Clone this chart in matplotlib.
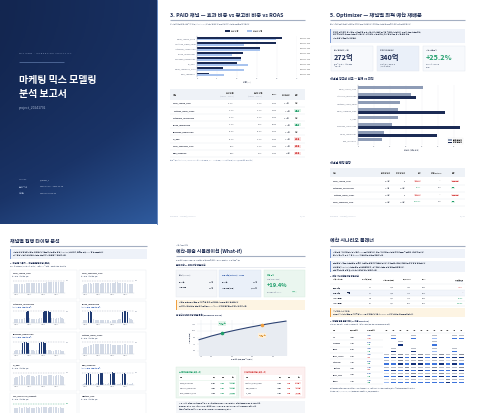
import matplotlib.pyplot as plt
import matplotlib.patches as mpatches
from matplotlib.colors import LinearSegmentedColormap, ListedColormap, BoundaryNorm
import numpy as np

plt.rcParams['font.family'] = ['Noto Sans CJK KR', 'DejaVu Sans']

# ---------------- data ----------------
paid_channels = ["Naver_search_click", "Youtube_video_views", "Instagram_impression", "Kakao_impression",
                 "Facebook_impression", "TV_GRP", "Naver_shopping_click", "OOH_spending"]
effect_share = [21.2, 19.8, 15.8, 11.6, 10.9, 10.1, 6.5, 3.0]
spend_share = [19.7, 11.7, 15.8, 8.8, 10.9, 12.8, 11.8, 6.8]
paid_roas = [2.86, 3.48, 2.72, 3.56, 2.77, 2.14, 1.34, 1.24]
paid_spend = [28.7, 17.0, 22.9, 12.8, 15.9, 18.6, 17.2, 9.9]
paid_verdict = ["적정", "효율적", "적정", "효율적", "적정", "비효율", "비효율", "비효율"]

opt_channels = ["Naver_search_click", "Instagram_impression", "Youtube_video_views", "Naver_shopping_click",
                "TV_GRP", "Facebook_impression", "Kakao_impression", "OOH_spending"]
opt_current = [40.6, 33.1, 26.0, 25.0, 24.6, 21.3, 16.3, 14.8]
opt_optimal = [0, 36.0, 0, 54.0, 0, 63.5, 49.0, 0]
opt_return = [0, 2.6, 0, 2.4, 0, 2.9, 3.1, 0]
kpi_current = 272
kpi_optimal = 340
kpi_lift = 25.2

timing_channels = ["Naver_search_click", "Naver_shopping_click", "Instagram_impression", "Kakao_impression",
                   "Facebook_impression", "Youtube_video_views", "TV_GRP", "OOH_spending",
                   "Cafe_commerce_product", "Weather_rain"]
timing_flighted = [False, False, True, True, True, False, False, True, False, False]
wk_naver_search = [0.62, 0.63, 0.64, 0.66, 0.66, 0.67, 0.68, 0.69, 0.70, 0.70, 0.71, 0.72, 0.72, 0.73, 0.74,
                   0.74, 0.74, 0.75, 0.75, 0.76, 0.76, 0.76, 0.77, 0.77, 0.78, 0.78, 0.78, 0.77, 0.78, 0.78]
wk_naver_shop = [0.60, 0.62, 0.66, 0.70, 0.69, 0.68, 0.70, 0.71, 0.72, 0.70, 0.68, 0.70, 0.72, 0.71, 0.70,
                 0.70, 0.72, 0.74, 0.72, 0.76, 0.78, 0.74, 0.72, 0.70, 0.71, 0.70, 0.68, 0.66, 0.64, 0.66]
wk_instagram = [0.30, 0.32, 0.34, 0.36, 0.34, 0.36, 0.40, 0.88, 0.90, 0.40, 0.36, 0.34, 0.32, 0.34, 0.36,
                0.38, 0.42, 0.86, 0.92, 0.94, 0.90, 0.86, 0.42, 0.38, 0.34, 0.40, 0.42, 0.46, 0.40, 0.36]
wk_kakao = [0.22, 0.24, 0.26, 0.88, 0.90, 0.86, 0.30, 0.28, 0.25, 0.24, 0.22, 0.24, 0.26, 0.25, 0.24,
            0.22, 0.20, 0.22, 0.24, 0.26, 0.28, 0.30, 0.34, 0.84, 0.90, 0.92, 0.88, 0.40, 0.32, 0.28]
wk_facebook = [0.25, 0.28, 0.30, 0.32, 0.30, 0.82, 0.90, 0.95, 0.85, 0.34, 0.30, 0.28, 0.26, 0.30, 0.32,
               0.82, 0.90, 0.94, 0.86, 0.34, 0.30, 0.28, 0.26, 0.25, 0.30, 0.32, 0.30, 0.28, 0.26, 0.25]
wk_youtube = [0.45, 0.50, 0.55, 0.60, 0.66, 0.70, 0.74, 0.76, 0.78, 0.78, 0.80, 0.80, 0.79, 0.78, 0.76,
              0.74, 0.74, 0.72, 0.72, 0.70, 0.70, 0.70, 0.72, 0.72, 0.74, 0.74, 0.72, 0.70, 0.68, 0.66]
wk_tv = [0.50, 0.56, 0.62, 0.70, 0.74, 0.70, 0.62, 0.66, 0.72, 0.75, 0.70, 0.64, 0.60, 0.66, 0.72,
         0.76, 0.74, 0.68, 0.64, 0.70, 0.76, 0.78, 0.74, 0.68, 0.66, 0.72, 0.76, 0.74, 0.68, 0.62]
wk_ooh = [0.10, 0.12, 0.82, 0.92, 0.86, 0.14, 0.10, 0.10, 0.12, 0.84, 0.92, 0.88, 0.12, 0.10, 0.10,
          0.14, 0.86, 0.94, 0.88, 0.12, 0.10, 0.10, 0.12, 0.84, 0.92, 0.86, 0.14, 0.10, 0.10, 0.12]
wk_cafe = [0.55, 0.58, 0.60, 0.62, 0.60, 0.58, 0.62, 0.64, 0.60, 0.62, 0.60, 0.58, 0.60, 0.64, 0.62,
           0.60, 0.62, 0.66, 0.64, 0.62, 0.60, 0.64, 0.66, 0.68, 0.64, 0.62, 0.60, 0.62, 0.60, 0.58]
timing_series = [wk_naver_search, wk_naver_shop, wk_instagram, wk_kakao, wk_facebook,
                 wk_youtube, wk_tv, wk_ooh, wk_cafe, []]

sim_budget = [140, 200, 260, 320, 380, 440, 500, 560]
sim_revenue = [850, 935, 1008, 1072, 1130, 1184, 1232, 1275]
sim_current = (250, 995)
sim_optimal = (445, 1188)
up_channels = ["Kakao_impression", "Facebook_impression", "Naver_shopping_click"]
up_cur = [16.3, 21.3, 25.0]
up_opt = [49.0, 63.5, 54.0]
down_channels = ["Youtube_video_views", "OOH_spending", "TV_GRP"]
down_cur = [26.0, 14.8, 24.6]
down_opt = [0, 0, 0]

scen_names = ["현재 예산", "최적 예산", "+20% 증액", "+50% 증액"]
scen_budget = [272, 272, 326, 408]
scen_revenue = [1540, 1640, 1742, 1868]
scen_mroas = [1.42, 1.18, 1.05, 0.91]
scen_roas = [5.66, 6.03, 5.34, 4.58]

months = ["1월", "2월", "3월", "4월", "5월", "6월", "7월", "8월", "9월", "10월", "11월", "12월"]
plan_channels = ["TV", "Facebook", "Kakao", "Naver_search", "Instagram", "Youtube", "Naver_shop", "Others"]
plan_cur_total = [24.6, 21.3, 16.3, 40.6, 33.1, 26.0, 25.0, 14.8]
plan_opt_total = [12.0, 30.5, 22.4, 38.2, 36.0, 24.1, 30.8, 15.2]
plan_current = [[0, 2, 0, 0, 2, 0, 0, 2, 0, 0, 2, 2],
                [0, 0, 2, 0, 0, 0, 0, 2, 0, 0, 0, 0],
                [0, 2, 0, 0, 2, 0, 0, 2, 0, 0, 2, 0],
                [2, 2, 3, 2, 2, 3, 2, 2, 3, 2, 2, 3],
                [2, 1, 3, 2, 2, 3, 1, 2, 2, 1, 3, 2],
                [2, 2, 2, 3, 2, 2, 2, 3, 2, 2, 2, 3],
                [1, 2, 2, 2, 3, 2, 2, 2, 3, 2, 2, 2],
                [1, 2, 1, 2, 2, 1, 2, 2, 1, 3, 2, 2]]
plan_optimal = [[0, 2, 0, 0, 2, 0, 0, 1, 0, 0, 2, 2],
                [0, 0, 3, 0, 0, 0, 0, 2, 0, 0, 0, 0],
                [0, 3, 0, 0, 3, 0, 0, 1, 0, 0, 2, 0],
                [2, 3, 3, 2, 3, 3, 2, 3, 3, 2, 3, 3],
                [2, 2, 3, 2, 3, 3, 2, 2, 3, 2, 3, 2],
                [2, 3, 2, 3, 2, 3, 2, 3, 2, 2, 3, 3],
                [2, 2, 3, 2, 3, 2, 3, 2, 3, 2, 3, 2],
                [1, 2, 2, 2, 2, 2, 2, 2, 2, 3, 2, 2]]

# ---------------- style ----------------
W, H = 478, 413
NAVY = '#1c2b52'
DARK = '#1b2b55'
LIGHTB = '#a8c3ee'
GRAYB = '#8e9cb6'
GREEN = '#1e9e6a'
RED = '#d64545'
TXT = '#3a4252'
MUTED = '#9aa3b3'

fig = plt.figure(figsize=(4.78, 4.13), dpi=100)
bg = fig.add_axes([0, 0, 1, 1])
bg.axis('off')


def T(x, y, s, size=1.6, color=TXT, weight='normal', ha='left', va='center', **kw):
    bg.text(x, y, s, fontsize=size, color=color, fontweight=weight, ha=ha, va=va, **kw)


def R(x, y, w, h, fc, ec='none', lw=0.3):
    bg.add_patch(mpatches.Rectangle((x, y), w, h, facecolor=fc, edgecolor=ec, linewidth=lw))


def L(x0, x1, y, color='#e3e7ee', lw=0.3):
    bg.plot([x0, x1], [y, y], color=color, lw=lw, solid_capstyle='butt')


def badge(x, y, s, fc, tc, size=1.4, ha='left'):
    bg.text(x, y, s, fontsize=size, color=tc, ha=ha, va='center', fontweight='bold',
            bbox=dict(boxstyle='square,pad=0.3', fc=fc, ec='none'))


def callout(x, y, w, h, lines, fc='#eef2f9', bar='#7d9bd6'):
    R(x, y, w, h, fc)
    R(x, y, 0.9, h, bar)
    for k, s in enumerate(lines):
        T(x + 3, y + 2.6 + k * 3.3, s, size=1.35, color='#4a5366')


def sub_ax(x, y, w, h):
    return fig.add_axes([x / W, 1 - (y + h) / H, w / W, h / H])


def style_ax(ax, size=1.6):
    ax.tick_params(length=0, pad=0.8, labelsize=size, colors='#6b7385')
    for s in ax.spines.values():
        s.set_visible(False)


# ---------------- cover ----------------
gx, gy = np.meshgrid(np.linspace(0, 1, 120), np.linspace(0, 1, 170))
cover_cmap = LinearSegmentedColormap.from_list('cov', ['#132650', '#1a3468', '#2f5b9e'])
bg.imshow(0.45 * gx + 0.75 * gy * gy, extent=[0, 157, 224, 0], cmap=cover_cmap, aspect='auto', vmin=0, vmax=1.2)
bg.plot([157.3, 157.3], [0, 224], color='#4f77b8', lw=0.6)
bg.set_xlim(0, W)
bg.set_ylim(H, 0)

T(19, 53, "M I X   M M M   ·   M A R K E T I N G   A N A L Y T I C S", size=1.7, color='#8fa2c4')
L(19, 64, 61.5, color='#5f7aaa', lw=0.5)
T(19, 80, "마케팅 믹스 모델링", size=7.2, color='white', weight='bold')
T(19, 94, "분석 보고서", size=7.2, color='white', weight='bold')
T(19, 108, "project_20241792", size=2.4, color='#a9b8d3')
for k, (lab, val) in enumerate([("Version", "v_mmm_1"), ("분석 기간", "2023-01-02 ~ 2024-12-30"),
                                ("생성일", "2024-07-10 10:45")]):
    T(19, 180 + k * 6.5, lab, size=1.5, color='#8fa2c4')
    T(40, 180 + k * 6.5, val, size=1.5, color='#c3cee2')

# ---------------- page: paid channels ----------------
T(170, 15, "3. PAID 채널 — 효과 비중 vs 광고비 비중 vs ROAS", size=3.8, color=NAVY, weight='bold')
L(170, 305, 20, color='#a4afc2', lw=0.8)
T(170, 24, "각 채널의 모델 추정 매출 기여 비중(effect share)과 실제 광고비 비중을 비교하여 채널별 효율성을 평가합니다.",
  size=1.3, color=MUTED)
R(225, 30.3, 5, 1.6, DARK)
T(231, 31.1, "효과 비중", size=1.4, color='#555')
R(247, 30.3, 5, 1.6, LIGHTB)
T(253, 31.1, "광고비 비중", size=1.4, color='#555')

ax = sub_ax(197, 36, 100, 41)
yy = np.arange(len(paid_channels))
ax.barh(yy - 0.19, effect_share, height=0.36, color=DARK)
ax.barh(yy + 0.19, spend_share, height=0.36, color=LIGHTB)
ax.set_ylim(len(paid_channels) - 0.5, -0.5)
ax.set_xlim(0, 25)
ax.set_xticks([0, 5, 10, 15, 20, 25])
ax.set_yticks(yy, paid_channels)
style_ax(ax, 1.5)
ax.spines['left'].set_visible(True)
ax.spines['left'].set_color('#9aa3b3')
ax.spines['left'].set_linewidth(0.3)
ax.grid(axis='x', color='#eceff4', lw=0.3)
ax.set_axisbelow(True)
ax.set_xlabel("비중 (%)", fontsize=1.5, color='#6b7385', labelpad=1)
for i, r in enumerate(paid_roas):
    ax.text(25.7, i, f"ROAS {r:.2f}x", fontsize=1.4, color='#444', va='center', clip_on=False)

R(170, 89, 135, 11, '#eef2f7')
T(173, 94.5, "채널", size=1.5, color='#555', weight='bold')
for xh, s1, s2 in [(234, "효과 비중", "(2023.01 ~ 2024.12)"), (262, "광고비 비중", "(2023.01 ~ 2024.12)")]:
    T(xh, 93, s1, size=1.4, color='#555', weight='bold', ha='right')
    T(xh, 96.2, s2, size=1.1, color=MUTED, ha='right')
T(277, 94.5, "ROAS", size=1.4, color='#555', weight='bold', ha='right')
T(290, 94.5, "총 광고비", size=1.4, color='#555', weight='bold', ha='right')
T(295, 94.5, "판정", size=1.4, color='#555', weight='bold')
for i, ch in enumerate(paid_channels):
    y = 103.5 + i * 7.1
    T(173, y, ch, size=1.45, color='#2b3245', weight='bold')
    T(234, y, f"{effect_share[i]:.1f}%", size=1.4, ha='right')
    T(262, y, f"{spend_share[i]:.1f}%", size=1.4, ha='right')
    T(277, y, f"{paid_roas[i]:.2f}x", size=1.4, ha='right')
    T(290, y, f"{paid_spend[i]:.1f}억", size=1.4, ha='right')
    v = paid_verdict[i]
    if v == "효율적":
        badge(295, y, v, '#dff3e8', GREEN)
    elif v == "비효율":
        badge(295, y, v, '#fbe1e1', RED)
    else:
        T(295, y, v, size=1.4, color='#666')
    L(170, 305, y + 3.5)
T(170, 160.5, "판정 기준: effect share / spend share ≥ 1.2 → 효율적, 0.8 ~ 1.2 → 적정, < 0.8 → 비효율 (ROAS 및 총 광고비 함께 고려)",
  size=1.2, color='#a9b4c8')
T(170, 216, "MIX MMM  ·  project_20241792", size=1.3, color='#a9b4c8')
T(305, 216, "3 / 14", size=1.3, color='#a9b4c8', ha='right')

# ---------------- page: optimizer ----------------
T(330, 15, "5. Optimizer — 채널별 최적 예산 재배분", size=3.8, color=NAVY, weight='bold')
L(330, 465, 20, color='#a4afc2', lw=0.8)
T(330, 24, "현재 예산 배분과 모델이 제안하는 최적 배분을 비교합니다. 최적화는 채널별 반응 곡선과 포화 효과를 반영합니다.",
  size=1.3, color=MUTED)
callout(330, 29, 135, 14, ["최적화 결과 요약: 총 예산을 재배분하면 동일 예산 대비 매출이 증가할 것으로 예상됩니다. 효율이 낮은 채널은 축소,",
                            "포화 전 구간의 고효율 채널은 확대합니다. 제약 조건: 채널별 최소/최대 집행 비율, 총 예산 한도 적용.",
                            "세부 조정 내역은 아래 표 참고."])
cards = [("현재 총광고비 (예산)", f"{kpi_current}억", NAVY, '#f7f9fc', ["분석 기간 합계 · 주간 평균", "기준 예산"]),
         ("최적화 후 총광고비", f"{kpi_optimal}억", NAVY, '#eaf0f9', ["최적 배분 시 권장 총액", "(제약 조건 반영)"]),
         ("예상 매출 증가", f"+{kpi_lift:.1f}%", GREEN, '#f7f9fc', ["현재 대비 예상 매출", "증가율"])]
for k, (lab, val, col, fc, subs) in enumerate(cards):
    x = 331 + k * 46
    R(x, 46, 42, 25, fc, ec='#e1e6ee')
    T(x + 3, 50, lab, size=1.3, color='#6b7385')
    T(x + 3, 57.5, val, size=5.2, color=col, weight='bold')
    T(x + 3, 64, subs[0], size=1.15, color=MUTED)
    T(x + 3, 67, subs[1], size=1.15, color=MUTED)
T(330, 79, "채널별 광고비 비교 — 현재 vs 최적", size=2.2, color=NAVY, weight='bold')

ax2 = sub_ax(358, 85, 106, 60)
yy = np.arange(len(opt_channels))
ax2.barh(yy - 0.2, opt_current, height=0.38, color=GRAYB, label="현재 광고비")
ax2.barh(yy + 0.2, opt_optimal, height=0.38, color=DARK, label="최적 광고비")
ax2.set_ylim(len(opt_channels) - 0.5, -0.5)
ax2.set_xlim(0, 66)
ax2.set_xticks(range(0, 61, 10))
ax2.set_yticks(yy, opt_channels)
style_ax(ax2, 1.4)
ax2.spines['left'].set_visible(True)
ax2.spines['left'].set_color('#9aa3b3')
ax2.spines['left'].set_linewidth(0.3)
ax2.grid(axis='x', color='#eceff4', lw=0.3)
ax2.set_axisbelow(True)
ax2.set_xlabel("광고비 (억원, 주간)", fontsize=1.4, color='#6b7385', labelpad=1)
ax2.legend(loc='lower right', fontsize=1.4, handlelength=1.6, handleheight=0.6, frameon=True,
           edgecolor='#dddddd', borderpad=0.4, labelspacing=0.3).get_frame().set_linewidth(0.2)

T(330, 163, "채널별 변경 현황", size=2.2, color=NAVY, weight='bold')
R(330, 168, 135, 9, '#eef2f7')
for xh, s, ha in [(333, "채널", 'left'), (390, "현재 광고비", 'right'), (405, "최적 광고비", 'right'),
                  (421, "변화", 'right'), (441, "매출 Return", 'right'), (452, "판정", 'left')]:
    T(xh, 172.5, s, size=1.35, color='#555', weight='bold', ha=ha)
for i in range(4):
    y = 181 + i * 7
    T(333, y, opt_channels[i], size=1.4, color='#2b3245', weight='bold')
    T(390, y, f"{opt_current[i]:.1f}억", size=1.35, ha='right')
    T(405, y, "0" if opt_optimal[i] == 0 else f"{opt_optimal[i]:.1f}억", size=1.35, ha='right')
    chg = (opt_optimal[i] - opt_current[i]) / opt_current[i] * 100
    if opt_optimal[i] == 0:
        badge(421, y, "▼100%", '#fbe1e1', RED, size=1.2, ha='right')
        T(441, y, "—", size=1.35, color='#888', ha='right')
        badge(452, y, "전액 삭감", '#fbe1e1', RED, size=1.2)
    else:
        T(421, y, f"{chg:+.1f}%", size=1.35, color=GREEN, ha='right')
        T(441, y, f"{opt_return[i]:.1f}x", size=1.35, ha='right')
        badge(452, y, "증액", '#dff3e8', GREEN, size=1.2)
    L(330, 465, y + 3.5)
T(330, 216, "MIX MMM  ·  project_20241792", size=1.3, color='#a9b4c8')
T(465, 216, "4 / 14", size=1.3, color='#a9b4c8', ha='right')

# ---------------- page: timing small multiples ----------------
T(10, 241, "채널별 집행 타이밍 분석", size=3.6, color=NAVY, weight='bold')
L(10, 147, 246, color='#a4afc2', lw=0.8)
callout(10, 249, 137, 10, ["채널별 주간 집행량 패턴을 비교합니다. 짙은 막대는 집중 집행(flighting) 구간이며, 점선은 상위 95% 집행 수준입니다.",
                           "상시 집행 채널과 구간 집행 채널을 구분하여 예산 편성 시 참고하세요."])
T(10, 262.5, "1. 채널 별 가중치 — 채널별 집행 패턴 (주간)", size=1.6, color=NAVY, weight='bold')
T(10, 266.5, "막대: 주간 집행량 (최대값 대비 정규화) · 점선: p95 기준선 · 짙은 색: 집중 집행 구간", size=1.15, color=MUTED)
for k, ch in enumerate(timing_channels):
    col, row = k % 2, k // 2
    x, y = 10 + col * 69, 270 + row * 30.8
    R(x, y, 67, 28.5, 'white', ec='#e6e9ef', lw=0.3)
    T(x + 2.5, y + 3, ch, size=1.45, color='#2b3245', weight='bold')
    fl = timing_flighted[k]
    T(x + 2.5, y + 6, "flighting 집행 · 집중 구간 감지" if fl else "상시 집행 · 주간 변동 낮음",
      size=1.05, color='#5b7fc4' if fl else MUTED)
    vals = timing_series[k]
    if not vals:
        continue
    m = sub_ax(x + 3, y + 9, 52, 13.5)
    cols = ['#1f3a72' if (fl and v > 0.8) else '#d3dae6' for v in vals]
    m.bar(range(len(vals)), vals, width=0.75, color=cols)
    lc = GREEN if ch.startswith("Cafe") else '#8f99ab'
    m.axhline(0.9, ls=(0, (2, 2)), lw=0.3, color=lc)
    m.set_ylim(0, 1.02)
    m.set_xlim(-0.8, len(vals) - 0.2)
    if row < 4:
        m.set_xticks([1, 9, 17, 25], ["2023.01", "2023.07", "2024.01", "2024.07"])
    else:
        m.set_xticks([])
    m.set_yticks([])
    style_ax(m, 1.0)
    m.spines['bottom'].set_visible(True)
    m.spines['bottom'].set_color('#c5ccd8')
    m.spines['bottom'].set_linewidth(0.3)
    m.text(len(vals) + 0.3, 0.9, "p95", fontsize=1.0, color=lc, va='center', clip_on=False)

# ---------------- page: simulation ----------------
T(176, 245, "예산 시뮬레이션", size=1.3, color=MUTED)
T(176, 251, "예산-매출 시뮬레이션 (What-if)", size=3.5, color=NAVY, weight='bold')
L(176, 305, 256, color='#a4afc2', lw=0.8)
T(176, 259.8, "총 광고비 수준에 따른 예상 매출 변화를 반응 곡선으로 시뮬레이션합니다. 최적 배분 기준.", size=1.25, color=MUTED)
T(176, 264.5, "현재 예산 vs 최적 예산 매출 비교", size=1.6, color=NAVY, weight='bold')
L(176, 305, 267.3, color='#d5dbe5', lw=0.4)
lift = (sim_optimal[1] / sim_current[1] - 1) * 100
R(176, 270, 41, 27, '#f4f6f9', ec='#e3e7ee')
T(179, 275, "현재 (Current)", size=1.3, color='#6b7385')
T(179, 282, "총 예산", size=1.25)
T(214, 282, f"{sim_current[0]}억", size=1.3, weight='bold', ha='right')
T(179, 288, "예상 매출", size=1.25)
T(214, 288, f"{sim_current[1]:,}억", size=1.3, weight='bold', ha='right')
R(219.5, 270, 42, 27, '#eaf0f9', ec='#dbe3f0')
T(222.5, 275, f"최적 예산 (Optimal) · {sim_optimal[0]}억", size=1.25, color='#3d64b0', weight='bold')
T(222.5, 282, "총 예산", size=1.25)
T(258, 282, f"{sim_optimal[0]}억", size=1.3, weight='bold', ha='right')
T(222.5, 288, "예상 매출 (최적)", size=1.25)
T(258, 288, f"{sim_optimal[1]:,}억", size=1.3, weight='bold', ha='right')
R(264, 270, 41, 27, '#eaf6ef', ec='#d4ecdd')
T(267, 275, "예상 증가", size=1.3, color=GREEN, weight='bold')
T(267, 279.5, "매출 (최적 vs 현재)", size=1.15, color=MUTED)
T(267, 285.5, f"+{lift:.1f}%", size=4.0, color=GREEN, weight='bold')
T(267, 292, "추가 투자 대비 ROAS", size=1.15, color=MUTED)
badge(292, 292, "1.02x", '#dff3e8', GREEN, size=1.1)
callout(176, 299.5, 129, 10, ["예산을 늘릴수록 매출은 증가하지만 포화 효과로 한계 효율은 점차 감소합니다.",
                              "→ 최적 예산 구간을 넘는 추가 투자는 ROAS가 1.0x 이하로 떨어질 수 있으니 주의하세요."],
        fc='#fdf4e3', bar='#f0a040')
T(176, 315, "총 광고비 대비 예상 매출 곡선 (Response Curve)", size=1.6, color=NAVY, weight='bold')

ax3 = sub_ax(197, 320, 90, 35)
ax3.fill_between(sim_budget, sim_revenue, 500, color='#e8ecf2')
ax3.plot(sim_budget, sim_revenue, color='#2d4373', lw=0.8)
ax3.scatter([sim_current[0]], [sim_current[1]], s=2.5, color=GREEN, zorder=3)
ax3.scatter([sim_optimal[0]], [sim_optimal[1]], s=2.5, color='#f0a040', zorder=3)
ax3.annotate(f"현재 예산\n{sim_current[0]}억", sim_current, xytext=(0, 6), textcoords='offset points',
             fontsize=1.2, color=GREEN, ha='center', bbox=dict(boxstyle='square,pad=0.3', fc='#e6f5ec', ec='none'))
ax3.annotate(f"최적 예산\n{sim_optimal[0]}억", sim_optimal, xytext=(0, -9), textcoords='offset points',
             fontsize=1.2, color='#d98a1e', ha='center', bbox=dict(boxstyle='square,pad=0.3', fc='#fdf0dc', ec='none'))
ax3.set_xlim(130, 565)
ax3.set_ylim(500, 1300)
ax3.set_xticks([150, 200, 300, 400, 500])
ax3.set_yticks([600, 750, 900, 1050, 1200])
style_ax(ax3, 1.2)
ax3.grid(color='#e3e7ee', lw=0.3)
ax3.set_axisbelow(True)
ax3.set_xlabel("총 광고비 (억원, 분석 기간 합계)", fontsize=1.2, color='#6b7385', labelpad=1)
ax3.set_ylabel("예상 매출 (억원)", fontsize=1.2, color='#6b7385', labelpad=1)

for side, (chs, cur, opt, fc, ec, col, head) in enumerate([
        (up_channels, up_cur, up_opt, '#eef7f1', '#d5ecdd', GREEN, "▲ 증액 추천 채널 (상위 3개)"),
        (down_channels, down_cur, down_opt, '#fdf0f0', '#f3d6d6', RED, "▼ 감액 추천 채널 (상위 3개)")]):
    x = 176 + side * 65.5
    R(x, 367, 63.5, 31, fc, ec=ec)
    T(x + 3, 371.5, head, size=1.35, color=col, weight='bold')
    R(x + 3, 374.5, 57.5, 5.5, 'white')
    for xh, s, ha in [(x + 4, "채널", 'left'), (x + 40, "현재", 'right'), (x + 49, "최적", 'right'),
                      (x + 59, "변화", 'right')]:
        T(xh, 377.3, s, size=1.2, color='#555', weight='bold', ha=ha)
    for i in range(3):
        y = 383 + i * 5.3
        R(x + 3, y - 2.5, 57.5, 5, 'white')
        T(x + 4, y, chs[i], size=1.2, color='#2b3245')
        T(x + 40, y, f"{cur[i]:.1f}억", size=1.15, ha='right')
        T(x + 49, y, f"{opt[i]:.1f}억", size=1.15, color=col, ha='right')
        d = opt[i] - cur[i]
        badge(x + 59, y, f"{d:+.1f}억", '#dff3e8' if d > 0 else '#fbe1e1', col, size=1.05, ha='right')
R(176, 400.5, 129, 12.5, '#f4f6f9')
for k, s in enumerate(["해석 가이드: 곡선은 최적 배분을 유지한 채 총 예산만 변경한 경우의 예상 매출입니다. 점선 구간은 관측 범위 밖 외삽이므로",
                       "불확실성이 큽니다. 현재 예산에서 최적 예산으로 이동 시 예상 매출 증가분과 추가 투자 대비 효율을 함께 검토하세요.",
                       "모든 수치는 모델 추정치이며 실제 결과는 시장 상황에 따라 달라질 수 있습니다."]):
    T(179, 403.5 + k * 3.3, s, size=1.15, color='#5a6375')

# ---------------- page: scenario planner ----------------
T(330, 240, "예산 시나리오 플래너", size=3.6, color=NAVY, weight='bold')
L(330, 465, 246, color='#a4afc2', lw=0.8)
callout(330, 249, 135, 9, ["예산 증감 시나리오별 예상 매출과 ROAS를 비교합니다. 모든 시나리오는 채널별 최적 배분을 기준으로 계산되었습니다.",
                            "현재 예산 대비 증액 시 한계 ROAS가 감소하는 구간을 확인하세요."])
callout(330, 260.5, 135, 11, ["월별 집행 계획은 채널별 반응 곡선과 계절성을 반영하여 산출했습니다. 회색은 현재 집행, 파란색은 최적 집행 강도입니다.",
                              "구간 집행(flighting) 채널은 집중 월에만 편성되며, 상시 집행 채널은 월별 강도를 조정합니다.",
                              "실행 전 캠페인 일정 및 매체 구매 조건과 함께 검토하세요."])
T(330, 275.5, "1. 예산 시나리오별 예상 매출 비교", size=1.5, color=NAVY, weight='bold')
for xh, s, ha in [(333, "예산 시나리오", 'left'), (372, "총 예산 (억원)", 'right'), (394, "예상 매출 (억원)", 'right'),
                  (411, "한계 ROAS", 'right'), (426, "ROAS", 'right'), (463, "매출 변화율", 'right')]:
    T(xh, 279.8, s, size=1.2, color='#555', weight='bold', ha=ha)
T(463, 282.3, "(vs 최적 예산)", size=0.95, color=MUTED, ha='right')
L(330, 465, 284)
for i, nm in enumerate(scen_names):
    y = 287.7 + i * 5.3
    if i == 1:
        R(330, y - 2.6, 135, 5.2, '#f2f5fb')
        T(333, y, nm, size=1.25, color='#2b3245', weight='bold')
        badge(347, y, "추천", NAVY, 'white', size=1.0)
    else:
        T(333, y, nm, size=1.25, color='#2b3245', weight='bold')
    T(372, y, f"{scen_budget[i]}", size=1.2, ha='right')
    T(394, y, f"{scen_revenue[i]:,}", size=1.2, ha='right')
    T(411, y, f"{scen_mroas[i]:.2f}x", size=1.2, ha='right')
    T(426, y, f"{scen_roas[i]:.2f}x", size=1.2, ha='right')
    chg = (scen_revenue[i] / scen_revenue[1] - 1) * 100
    if i == 1:
        T(463, y, "—", size=1.2, color='#888', ha='right')
    else:
        T(463, y, f"{chg:+.1f}%", size=1.25, color=GREEN if chg > 0 else RED, weight='bold', ha='right')
    L(330, 465, y + 2.6)
callout(330, 308, 135, 9, ["시나리오 해석 가이드", "→ 증액 시 예상 매출은 증가하지만 ROAS는 하락합니다. 한계 ROAS 1.0x 이하 구간은 비효율 투자입니다."],
        fc='#fdf4e3', bar='#f0a040')
T(330, 321, "2. 채널별 월별 집행 계획 (12개월 Flighting)", size=1.5, color=NAVY, weight='bold')
T(330, 325, "회색: 현재 집행 강도 · 파란색: 최적 집행 강도 · 빈 칸: 미집행 (집중 집행 채널은 일부 월에만 편성)", size=1.1, color=MUTED)
T(333, 330.5, "채널", size=1.2, color='#555', weight='bold')
T(350, 330.5, "현재 광고비", size=1.2, color='#555', weight='bold')
T(367, 330.5, "최적 광고비", size=1.2, color='#555', weight='bold')
for j, mo in enumerate(months):
    T(383 + (j + 0.5) * 82 / 12, 330.5, mo, size=1.05, color='#555', weight='bold', ha='center')
L(330, 465, 333)

mat = []
for cur_row, opt_row in zip(plan_current, plan_optimal):
    mat.append(cur_row)
    mat.append([v + 3 if v > 0 else 0 for v in opt_row])
heat_cmap = ListedColormap(['white', '#e0e3e9', '#b8bdc7', '#8a909c', '#9dbbf2', '#3d74dd', '#12307a'])
heat_norm = BoundaryNorm(np.arange(-0.5, 7.5, 1), heat_cmap.N)
ax4 = sub_ax(383, 334, 82, 50.4)
ax4.pcolormesh(np.array(mat), cmap=heat_cmap, norm=heat_norm, edgecolors='white', linewidth=0.25)
ax4.set_ylim(len(mat), 0)
ax4.set_xticks([])
ax4.set_yticks([])
for s in ax4.spines.values():
    s.set_visible(False)
for i, ch in enumerate(plan_channels):
    y = 334 + (i + 0.5) * 50.4 / 8
    T(333, y, ch, size=1.2, color='#2b3245', weight='bold')
    T(350, y, f"{plan_cur_total[i]:.1f}억", size=1.1)
    d = plan_opt_total[i] - plan_cur_total[i]
    T(367, y - 1.2, f"{plan_opt_total[i]:.1f}억", size=1.1, color='#3d64b0')
    T(367, y + 1.3, f"{d:+.1f}억", size=0.95, color=GREEN if d > 0 else RED)
    L(330, 383, y + 3.15)
T(330, 389, "참고: 월별 집행 강도는 채널별 최적 광고비를 12개월에 배분한 결과이며, 계절성 지수와 과거 집행 패턴을 반영했습니다. 진한 색일수록 집행 강도가 높습니다.",
  size=1.0, color=MUTED)
T(330, 392, "구간 집행 채널(TV, Facebook, Kakao)은 집중 월 외에는 편성하지 않는 것을 권장합니다.", size=1.0, color=MUTED)

fig.savefig("out.png", dpi=100)
